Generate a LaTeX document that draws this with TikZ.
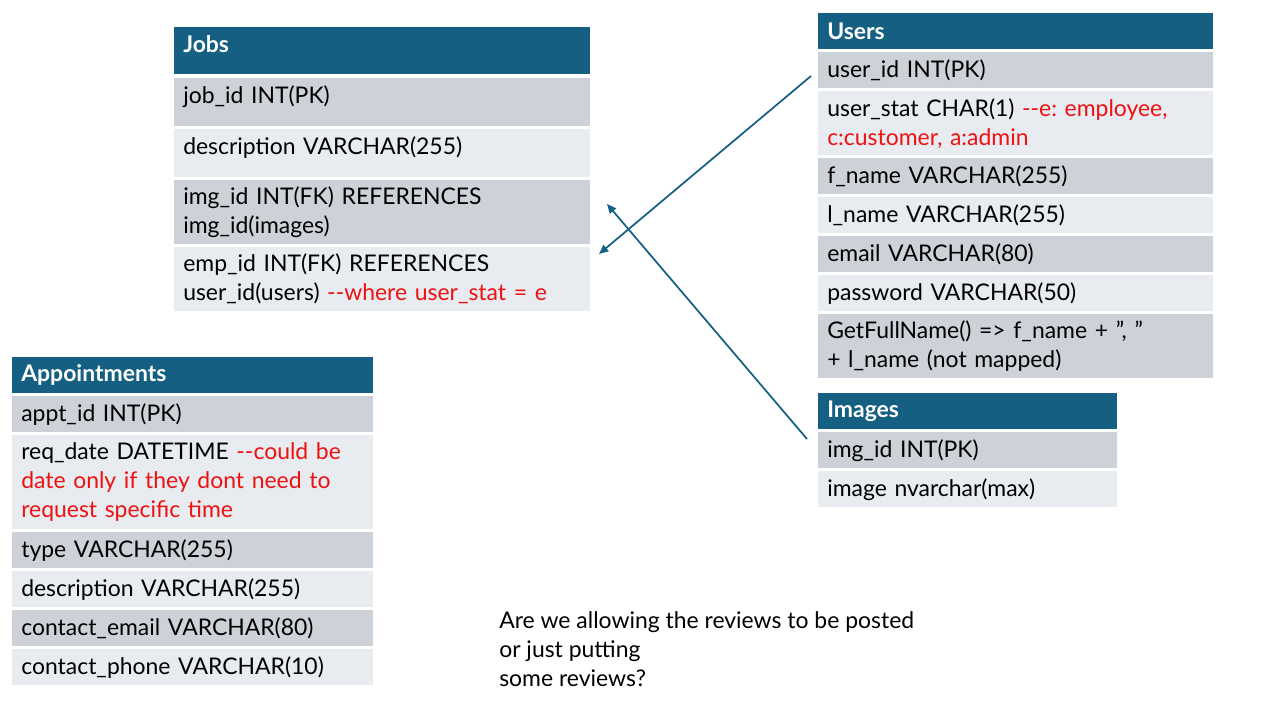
\documentclass[tikz,border=0pt]{standalone}
\usepackage{fontspec}
\setmainfont{Lato}
\usetikzlibrary{arrows.meta}
\definecolor{hdblue}{HTML}{156082}
\definecolor{rowdark}{HTML}{CDD1D8}
\definecolor{rowlight}{HTML}{E8EBEF}
\definecolor{note}{HTML}{EE1111}
\newcommand{\dsh}{-\kern0pt-}
\newcommand{\qt}{\symbol{34}}
\frenchspacing
\begin{document}
\begin{tikzpicture}[
		x = 0.75pt, y = -0.75pt,
		cell/.style  = {rectangle, anchor=north west, inner xsep=6.75pt, inner ysep=0pt,
			align=left, font=\fontsize{17.2}{21.75}\selectfont},
		tbhead/.style = {cell, fill=hdblue, text=white, font=\fontsize{17.2}{21.75}\selectfont\bfseries},
		dk/.style    = {cell, fill=rowdark},
		lt/.style    = {cell, fill=rowlight},
		jobw/.style  = {minimum width=312pt, text width=298.5pt},
		usrw/.style  = {minimum width=296.25pt, text width=282.75pt},
		imgw/.style  = {minimum width=224.25pt, text width=210.75pt},
		aptw/.style  = {minimum width=270.75pt, text width=257.25pt},
		fk/.style    = {draw=hdblue, line width=1.3pt, -{Triangle[length=7pt, width=6pt]}}
		]
		\useasboundingbox (0,0) rectangle (1280,720);
		
		% Jobs
		\node[tbhead, jobw, minimum height=35.25pt, text depth=10pt] (jobs)  at (174, 27) {Jobs};
		\node[dk, jobw, minimum height=36pt, text depth=12pt]    (jobs1) at (174, 78) {job\_id INT(PK)};
		\node[lt, jobw, minimum height=36pt, text depth=12pt]    (jobs2) at (174,129) {description VARCHAR(255)};
		\node[dk, jobw, minimum height=48pt]    (jobs3) at (174,180) {img\_id INT(FK) REFERENCES\\img\_id(images)};
		\node[lt, jobw, minimum height=48pt]    (jobs4) at (174,247) {emp\_id INT(FK) REFERENCES\\user\_id(users) \textcolor{note}{\dsh where user\_stat = e}};
		
		% Users
		\node[tbhead, usrw, minimum height=27pt] (users)  at (818, 13) {Users};
		\node[dk, usrw, minimum height=27pt]     (users1) at (818, 52) {user\_id INT(PK)};
		\node[lt, usrw, minimum height=48pt]     (users2) at (818, 91) {user\_stat CHAR(1) \textcolor{note}{\dsh e: employee,}\\\textcolor{note}{c:customer, a:admin}};
		\node[dk, usrw, minimum height=27pt]     (users3) at (818,158) {f\_name VARCHAR(255)};
		\node[lt, usrw, minimum height=27pt]     (users4) at (818,197) {l\_name VARCHAR(255)};
		\node[dk, usrw, minimum height=27pt]     (users5) at (818,236) {email VARCHAR(80)};
		\node[lt, usrw, minimum height=27pt]     (users6) at (818,275) {password VARCHAR(50)};
		\node[dk, usrw, minimum height=48pt]     (users7) at (818,314) {GetFullName() => f\_name + \qt, \qt\\+ l\_name (not mapped)};
		
		% Images
		\node[tbhead, imgw, minimum height=27pt] (imgs)  at (818,393) {Images};
		\node[dk, imgw, minimum height=27pt]     (imgs1) at (818,432) {img\_id INT(PK)};
		\node[lt, imgw, minimum height=27pt]     (imgs2) at (818,471) {image nvarchar(max)};
		
		% Appointments
		\node[tbhead, aptw, minimum height=27pt] (appt)  at (12,357) {Appointments};
		\node[dk, aptw, minimum height=27pt]     (appt1) at (12,396) {appt\_id INT(PK)};
		\node[lt, aptw, minimum height=70.5pt]   (appt2) at (12,435) {req\_date DATETIME \textcolor{note}{\dsh could be}\\\textcolor{note}{date only if they dont need to}\\\textcolor{note}{request specific time}};
		\node[dk, aptw, minimum height=27pt]     (appt3) at (12,532) {type VARCHAR(255)};
		\node[lt, aptw, minimum height=27pt]     (appt4) at (12,571) {description VARCHAR(255)};
		\node[dk, aptw, minimum height=27pt]     (appt5) at (12,610) {contact\_email VARCHAR(80)};
		\node[lt, aptw, minimum height=27pt]     (appt6) at (12,649) {contact\_phone VARCHAR(10)};
		
		% question
		\node[cell, inner xsep=0pt] (ask) at (499,611) {Are we allowing the reviews to be posted\\or just putting\\some reviews?};
		
		% foreign keys
		\coordinate (usr-out) at (811, 76);
		\coordinate (emp-in)  at (599,254);
		\coordinate (img-out) at (807,439);
		\coordinate (img-in)  at (607,204);
		\draw[fk] (usr-out) -- (emp-in);
		\draw[fk] (img-out) -- (img-in);
	\end{tikzpicture}
\end{document}
